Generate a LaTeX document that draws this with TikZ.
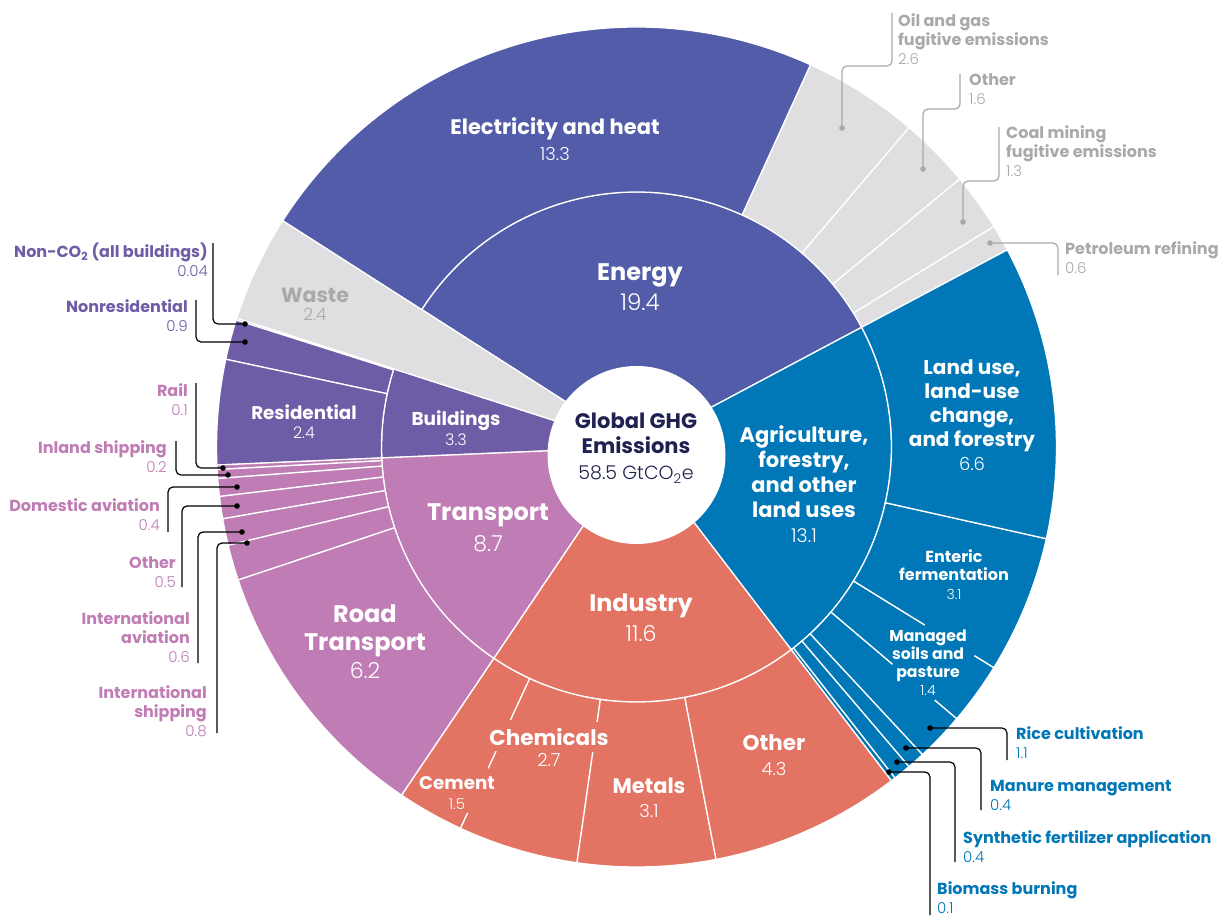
\documentclass[tikz,border=0pt]{standalone}
\usepackage{fontspec}
\setmainfont{Poppins}
\newfontfamily\lightfont{Poppins Light}
\usetikzlibrary{calc}
\definecolor{cEnergy}{HTML}{525CA8}
\definecolor{cGray}{HTML}{DFDFE1}
\definecolor{cGrayT}{HTML}{A9A9AB}
\definecolor{cBuild}{HTML}{6E5CA7}
\definecolor{cTrans}{HTML}{C07CB5}
\definecolor{cInd}{HTML}{E37363}
\definecolor{cAgri}{HTML}{0077B6}
\definecolor{cNavy}{HTML}{1F2250}
\newcommand\setfs[2]{\fontsize{#1}{#2}\selectfont}
\newcommand\vl[2]{{\lightfont\mdseries\fontsize{#1}{#1}\selectfont #2}}
\newcommand\ringseg[5]{\filldraw[seg,fill=#1] (#2:#4) arc[start angle=#2,end angle=#3,radius=#4] -- (#3:#5) arc[start angle=#3,end angle=#2,radius=#5] -- cycle;}
\newcommand\pieseg[4]{\filldraw[seg,fill=#1] (0,0) -- (#2:#4) arc[start angle=#2,end angle=#3,radius=#4] -- cycle;}
\newcommand\gapseg[4]{\draw[#1,line width=3.2pt] (#2:#3) -- (#2:#4);}
\begin{document}
\begin{tikzpicture}[x=1pt,y=-1pt,
 seg/.style={draw=white,line width=1.3pt,line join=round},
 inl/.style={text=white,align=center,inner sep=0pt},
 outl/.style={align=left,anchor=west,inner sep=0pt,font=\setfs{16}{19}\bfseries},
 outr/.style={align=right,anchor=east,inner sep=0pt,font=\setfs{16}{19}\bfseries},
 lead/.style={black,line width=1.2pt,rounded corners=5pt},
 glead/.style={cGrayT,line width=1.2pt,rounded corners=5pt}]
\useasboundingbox (0,0) rectangle (1222,915);
\fill[white] (0,0) rectangle (1222,915);
\begin{scope}[shift={(636.5,447)},y=1pt]
 % inner ring (top-level sectors)
 \pieseg{cEnergy}{28}{147.385}{255}
 \pieseg{cBuild}{162.154}{182.462}{255}
 \pieseg{cTrans}{182.462}{236.0}{255}
 \pieseg{cInd}{236.0}{307.385}{255}
 \pieseg{cAgri}{307.385}{388.0}{255}
 \pieseg{cGray}{147.385}{162.154}{420}
 % energy
 \ringseg{cGray}{28}{31.692}{255}{420}
 \ringseg{cGray}{31.692}{39.692}{255}{420}
 \ringseg{cGray}{39.692}{49.538}{255}{420}
 \ringseg{cGray}{49.538}{65.538}{255}{420}
 \ringseg{cEnergy}{65.538}{147.385}{255}{420}
 % buildings
 \ringseg{cBuild}{162.154}{162.4}{255}{420}
 \ringseg{cBuild}{162.4}{167.94}{255}{420}
 \ringseg{cBuild}{167.94}{182.462}{255}{420}
 % transport
 \ringseg{cTrans}{182.462}{183.077}{255}{420}
 \ringseg{cTrans}{183.077}{184.308}{255}{420}
 \ringseg{cTrans}{184.308}{186.769}{255}{420}
 \ringseg{cTrans}{186.769}{189.846}{255}{420}
 \ringseg{cTrans}{189.846}{193.538}{255}{420}
 \ringseg{cTrans}{193.538}{198.462}{255}{420}
 \ringseg{cTrans}{198.462}{236.0}{255}{420}
 % industry
 \ringseg{cInd}{236.0}{245.23}{255}{420}
 \ringseg{cInd}{245.23}{261.85}{255}{420}
 \ringseg{cInd}{261.85}{280.92}{255}{420}
 \ringseg{cInd}{280.92}{307.385}{255}{420}
 % agriculture
 \ringseg{cAgri}{307.385}{308.0}{255}{420}
 \ringseg{cAgri}{308.0}{310.462}{255}{420}
 \ringseg{cAgri}{310.462}{312.923}{255}{420}
 \ringseg{cAgri}{312.923}{319.692}{255}{420}
 \ringseg{cAgri}{319.692}{328.308}{255}{420}
 \ringseg{cAgri}{328.308}{347.385}{255}{420}
 \ringseg{cAgri}{347.385}{388.0}{255}{420}
 % breaks in the dividing lines behind the labels
 \gapseg{cInd}{245.23}{301}{335}
 \gapseg{cInd}{245.23}{354}{403}
 \gapseg{cInd}{261.85}{278}{308}
 \gapseg{cAgri}{328.308}{339}{397}
 \gapseg{cAgri}{319.692}{336}{391}
\end{scope}
\fill[white] (636.5,455) circle[radius=89];

% labels inside
\node[inl,font=\setfs{21}{26}\bfseries] (elec) at (555,139) {Electricity and heat\\\vl{18}{13.3}};
\node[inl,font=\setfs{24}{30}\bfseries] (energy) at (640,287) {Energy\\\vl{23}{19.4}};
\node[inl,text=cGrayT,font=\setfs{20.5}{18}\bfseries] (waste) at (315,304) {Waste\\\vl{17}{2.4}};
\node[inl,text=cNavy,font=\setfs{21}{25.5}\bfseries] (ghg) at (636,448) {Global GHG\\Emissions\\\vl{19}{58.5 GtCO\textsubscript{2}e}};
\node[inl,font=\setfs{18.5}{20}\bfseries] (bld) at (456,428) {Buildings\\\vl{16}{3.3}};
\node[inl,font=\setfs{18.3}{19}\bfseries] (res) at (304,422) {Residential\\\vl{16}{2.4}};
\node[inl,font=\setfs{24}{31}\bfseries] (trn) at (488,528) {Transport\\\vl{22}{8.7}};
\node[inl,font=\setfs{24}{28}\bfseries] (road) at (365,642) {Road\\Transport\\\vl{22}{6.2}};
\node[inl,font=\setfs{23.8}{30}\bfseries] (ind) at (641,618) {Industry\\\vl{22}{11.6}};
\node[inl,font=\setfs{21.5}{24}\bfseries] (chem) at (549,737) {Chemicals};
\node[inl,font=\setfs{18}{24}] (chemv) at (549,760) {\vl{18}{2.7}};
\node[inl,font=\setfs{18.3}{20}\bfseries] (cem) at (457,793) {Cement\\\vl{15}{1.5}};
\node[inl,font=\setfs{21}{24}\bfseries] (met) at (649,798) {Metals\\\vl{18}{3.1}};
\node[inl,font=\setfs{21.5}{25}\bfseries] (oth) at (774,755.5) {Other\\\vl{18}{4.3}};
\node[inl,font=\setfs{21}{25}\bfseries] (agri) at (804,484) {Agriculture,\\forestry,\\and other\\land uses\\\vl{19}{13.1}};
\node[inl,font=\setfs{20}{24}\bfseries] (land) at (972,415) {Land use,\\land-use\\change,\\and forestry\\\vl{18}{6.6}};
\node[inl,font=\setfs{16}{18.5}\bfseries] (ent) at (954,574.5) {Enteric\\fermentation\\\vl{14}{3.1}};
\node[inl,font=\setfs{15.7}{18}\bfseries] (man) at (928,663) {Managed\\soils and\\pasture\\\vl{14}{1.4}};

% labels outside
\node[outl,text=cGrayT] (oil) at (898,39) {Oil and gas\\fugitive emissions\\\vl{15}{2.6}};
\node[outl,text=cGrayT] (goth) at (969,89) {Other\\\vl{15}{1.6}};
\node[outl,text=cGrayT] (coal) at (1006,151) {Coal mining\\fugitive emissions\\\vl{15}{1.3}};
\node[outl,text=cGrayT] (pet) at (1065,257.5) {Petroleum refining\\\vl{15}{0.6}};
\node[outr,text=cBuild] (nonco) at (208,260) {Non-CO\textsubscript{2} (all buildings)\\\vl{15}{0.04}};
\node[outr,text=cBuild] (nonres) at (188,315.5) {Nonresidential\\\vl{15}{0.9}};
\node[outr,text=cTrans] (rail) at (188,399.5) {Rail\\\vl{15}{0.1}};
\node[outr,text=cTrans] (inland) at (167,456.5) {Inland shipping\\\vl{15}{0.2}};
\node[outr,text=cTrans] (domav) at (160,515) {Domestic aviation\\\vl{15}{0.4}};
\node[outr,text=cTrans] (toth) at (176,572.5) {Other\\\vl{15}{0.5}};
\node[outr,text=cTrans] (intav) at (190,637.5) {International\\aviation\\\vl{15}{0.6}};
\node[outr,text=cTrans] (intsh) at (207,711) {International\\shipping\\\vl{15}{0.8}};
\node[outl,text=cAgri] (rice) at (1016,742.5) {Rice cultivation\\\vl{15}{1.1}};
\node[outl,text=cAgri] (manure) at (990,795) {Manure management\\\vl{15}{0.4}};
\node[outl,text=cAgri] (synth) at (963,847) {Synthetic fertilizer application\\\vl{15}{0.4}};
\node[outl,text=cAgri] (bio) at (937,898) {Biomass burning\\\vl{15}{0.1}};

% leader lines
\coordinate (oilT) at (892,13); \coordinate (oilB) at (842,66); \coordinate (oilD) at (842,128);
\coordinate (gothT) at (960,74); \coordinate (gothB) at (923,109); \coordinate (gothD) at (923,169);
\coordinate (coalT) at (999,127); \coordinate (coalB) at (963,181); \coordinate (coalD) at (963,222);
\coordinate (petT) at (1058,275); \coordinate (petD) at (990,243);
\draw[glead] (oilT) |- (oilB) -- (oilD);
\draw[glead] (gothT) |- (gothB) -- (gothD);
\draw[glead] (coalT) |- (coalB) -- (coalD);
\draw[glead] (petT) |- (petD);
\foreach \d in {oilD,gothD,coalD,petD} \fill[cGrayT] (\d) circle[radius=2.8];

\coordinate (noncoT) at (213,243); \coordinate (noncoD) at (245,324);
\coordinate (nonresT) at (196,300); \coordinate (nonresD) at (245,342);
\coordinate (railT) at (196,383); \coordinate (railD) at (223,468);
\coordinate (inlandT) at (176,441); \coordinate (inlandD) at (228,475);
\coordinate (domavT) at (168,532); \coordinate (domavD) at (237,487);
\coordinate (tothT) at (182,587); \coordinate (tothD) at (237,506);
\coordinate (intavT) at (198,663); \coordinate (intavD) at (242,532);
\coordinate (intshT) at (217,733); \coordinate (intshD) at (247,543);
\foreach \n in {nonco,nonres,rail,inland,domav,toth,intav,intsh}{
 \draw[lead] (\n T) |- (\n D);
 \fill (\n D) circle[radius=2.8];}

\coordinate (riceD) at (930,728); \coordinate (riceE) at (1007,760);
\coordinate (manureD) at (906,748); \coordinate (manureE) at (981,810);
\coordinate (synthD) at (897,762); \coordinate (synthE) at (955,862);
\coordinate (bioD) at (889,772); \coordinate (bioE) at (930,915);
\foreach \n in {rice,manure,synth,bio}{
 \draw[lead] (\n D) -| (\n E);
 \fill (\n D) circle[radius=2.8];}
\end{tikzpicture}
\end{document}
